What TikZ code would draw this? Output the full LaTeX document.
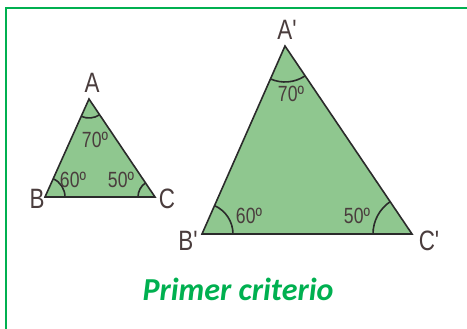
\documentclass[tikz,border=0pt]{standalone}
\usepackage{fontspec}
\usepackage{tikz}
\usetikzlibrary{angles}
\newfontfamily\lblfont[FakeStretch=0.8]{Liberation Sans}
\newfontfamily\ttlfont{Carlito}
\definecolor{frame}{HTML}{00B050}
\definecolor{leaf}{HTML}{8FC78F}
\definecolor{ink}{HTML}{2B2B2B}
\definecolor{tag}{HTML}{4A3D3D}
\tikzset{
  vlbl/.style={font=\lblfont\fontsize{28}{28}\selectfont, text=tag, inner sep=0pt},
  albl/.style={font=\lblfont\fontsize{22}{22}\selectfont, text=tag, inner sep=0pt},
}
\begin{document}
\begin{tikzpicture}[x=1pt, y=1pt,
  tri/.style={draw=ink, fill=leaf, line width=1.6pt, line join=miter},
  angarc/.style={draw=ink, line width=1.6pt}]
\useasboundingbox (0,0) rectangle (467,329);
\draw[frame, line width=2.5pt] (6,0) -- (6,321) -- (467,321);
% small triangle
\coordinate (A) at (89,230);
\coordinate (B) at (45,132);
\coordinate (C) at (155,132);
\draw[tri] (A) -- (B) -- (C) -- cycle;
\pic[angarc, angle radius=19] {angle=B--A--C};
\pic[angarc, angle radius=20] {angle=C--B--A};
\pic[angarc, angle radius=17] {angle=A--C--B};
\node[vlbl] (a) at (92,246) {A};
\node[vlbl] (b) at (37,130) {B};
\node[vlbl] (c) at (167,130) {C};
\node[albl] (ta) at (95,189) {70º};
\node[albl] (tb) at (73,149) {60º};
\node[albl] (tc) at (121,149) {50º};
% large triangle
\coordinate (A') at (285,283);
\coordinate (B') at (202,95);
\coordinate (C') at (412,95);
\draw[tri] (A') -- (B') -- (C') -- cycle;
\pic[angarc, angle radius=36] {angle=B'--A'--C'};
\pic[angarc, angle radius=31] {angle=C'--B'--A'};
\pic[angarc, angle radius=39] {angle=A'--C'--B'};
\node[vlbl] (a') at (287,299) {A'};
\node[vlbl] (b') at (188,88) {B'};
\node[vlbl] (c') at (429,88) {C'};
\node[albl] (ta') at (291,235) {70º};
\node[albl] (tb') at (249,113) {60º};
\node[albl] (tc') at (357,113) {50º};
\node[font=\ttlfont\bfseries\itshape\fontsize{32}{32}\selectfont, text=frame] (title) at (238,40) {Primer criterio};
\end{tikzpicture}
\end{document}
